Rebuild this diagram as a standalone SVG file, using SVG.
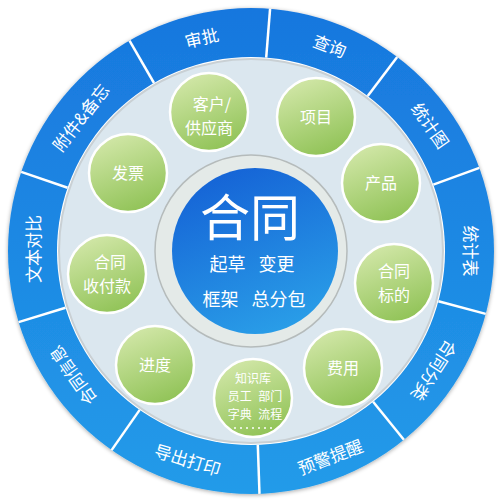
<svg xmlns="http://www.w3.org/2000/svg" width="500" height="500" viewBox="0 0 500 500">
<defs>
<linearGradient id="ringG" x1="0" y1="0" x2="0" y2="1">
<stop offset="0" stop-color="#1877de"/>
<stop offset="1" stop-color="#239be9"/>
</linearGradient>
<linearGradient id="blueG" x1="0.3" y1="0" x2="0.7" y2="1">
<stop offset="0" stop-color="#1563d6"/>
<stop offset="1" stop-color="#2a9fe8"/>
</linearGradient>
<linearGradient id="greenG" x1="0.3" y1="0" x2="0.7" y2="1">
<stop offset="0" stop-color="#d2e7a8"/>
<stop offset="1" stop-color="#8fc255"/>
</linearGradient>
<filter id="sh" x="-10%" y="-10%" width="120%" height="120%">
<feGaussianBlur in="SourceAlpha" stdDeviation="2"/>
<feOffset dx="0" dy="1" result="b"/>
<feComponentTransfer><feFuncA type="linear" slope="0.35"/></feComponentTransfer>
<feMerge><feMergeNode/><feMergeNode in="SourceGraphic"/></feMerge>
</filter>
</defs>
<style>
.lbl{font-family:"Noto Sans CJK SC","Noto Sans",sans-serif;font-size:17px;fill:#ffffff;text-anchor:middle;dominant-baseline:central}
.gc{fill:url(#greenG);stroke:#ffffff;stroke-width:2.5}
.gt{font-family:"Noto Sans CJK SC","Noto Sans",sans-serif;font-size:16px;fill:#ffffff;text-anchor:middle}
.st{font-family:"Noto Sans CJK SC","Noto Sans",sans-serif;font-size:12px;fill:#ffffff;text-anchor:middle;word-spacing:4px}
.dot{fill:#ffffff}
.div{stroke:#ffffff;stroke-width:2.5;stroke-linecap:butt}
.ct{font-family:"Noto Sans CJK SC","Noto Sans",sans-serif;fill:#ffffff;text-anchor:middle}
.cs{word-spacing:9px}
</style>

<g id="outer-ring">
<circle cx="251" cy="251" r="243" fill="url(#ringG)" filter="url(#sh)"/>
</g>

<g id="connectors">
<line class="div" x1="266.2" y1="57.6" x2="270.1" y2="8.7"/>
<line class="div" x1="367.7" y1="96.1" x2="397.2" y2="56.9"/>
<line class="div" x1="433.3" y1="184.7" x2="479.3" y2="167.9"/>
<line class="div" x1="438.4" y1="301.2" x2="485.7" y2="313.9"/>
<line class="div" x1="373.1" y1="401.8" x2="403.9" y2="439.8"/>
<line class="div" x1="257.8" y1="444.9" x2="259.5" y2="493.9"/>
<line class="div" x1="139.7" y1="409.9" x2="111.6" y2="450.1"/>
<line class="div" x1="65.5" y1="307.7" x2="18.6" y2="322.1"/>
<line class="div" x1="67.6" y1="187.8" x2="21.2" y2="171.9"/>
<line class="div" x1="154" y1="83" x2="129.5" y2="40.6"/>
</g>

<g id="ring-labels">
<g id="seg-shenpi"><text class="lbl" transform="translate(201.5,37) rotate(-13)">审批</text></g>
<g id="seg-chaxun"><text class="lbl" transform="translate(330,45) rotate(21)">查询</text></g>
<g id="seg-tongjitu"><text class="lbl" transform="translate(431,125) rotate(55)">统计图</text></g>
<g id="seg-tongjibiao"><text class="lbl" transform="translate(471,251) rotate(90)">统计表</text></g>
<g id="seg-fenlei"><text class="lbl" transform="translate(435,371) rotate(123)">合同分类</text></g>
<g id="seg-yujing"><text class="lbl" transform="translate(330,456) rotate(-21)">预警提醒</text></g>
<g id="seg-daochu"><text class="lbl" transform="translate(188,459) rotate(17)">导出打印</text></g>
<g id="seg-xinxi"><text class="lbl" transform="translate(72,376) rotate(235)">合同信息</text></g>
<g id="seg-wenben"><text class="lbl" transform="translate(32,249) rotate(-90)">文本对比</text></g>
<g id="seg-fujian"><text class="lbl" transform="translate(80,117) rotate(-52)">附件&amp;备忘</text></g>
</g>

<g id="inner-disk">
<circle cx="251" cy="251" r="194" fill="#ffffff"/>
<circle cx="251" cy="251" r="192" fill="#dbe7ef" stroke="#c9d0d4" stroke-width="2"/>
</g>

<g id="node-kehu"><circle class="gc" cx="209" cy="112" r="39"/><text class="gt" x="212" y="110">客户/</text><text class="gt" x="209" y="134">供应商</text></g>
<g id="node-xiangmu"><circle class="gc" cx="316" cy="117" r="39"/><text class="gt" x="316" y="123">项目</text></g>
<g id="node-chanpin"><circle class="gc" cx="381" cy="183" r="39"/><text class="gt" x="381" y="189">产品</text></g>
<g id="node-biaodi"><circle class="gc" cx="394" cy="283" r="39"/><text class="gt" x="394" y="277">合同</text><text class="gt" x="394" y="301">标的</text></g>
<g id="node-feiyong"><circle class="gc" cx="343" cy="368" r="39"/><text class="gt" x="343" y="374">费用</text></g>
<g id="node-zhishi"><circle class="gc" cx="253" cy="398" r="39"/><text class="st" x="253" y="383">知识库</text><text class="st" x="255" y="401">员工 部门</text><text class="st" x="255" y="419">字典 流程</text>
<g class="dot"><circle cx="235" cy="428" r="1"/><circle cx="241" cy="428" r="1"/><circle cx="247" cy="428" r="1"/><circle cx="253" cy="428" r="1"/><circle cx="259" cy="428" r="1"/><circle cx="265" cy="428" r="1"/><circle cx="271" cy="428" r="1"/></g></g>
<g id="node-jindu"><circle class="gc" cx="155" cy="365" r="39"/><text class="gt" x="155" y="371">进度</text></g>
<g id="node-shoufu"><circle class="gc" cx="107" cy="274" r="39"/><text class="gt" x="110" y="268">合同</text><text class="gt" x="107" y="292">收付款</text></g>
<g id="node-fapiao"><circle class="gc" cx="128" cy="173" r="39"/><text class="gt" x="128" y="179">发票</text></g>

<g id="node-center">
<circle cx="251" cy="251" r="96" fill="#e4eae8" stroke="#b5bbbb" stroke-width="1.5"/>
<circle cx="255" cy="251" r="83" fill="url(#blueG)"/>
<text class="ct" x="250" y="236" font-size="50">合同</text>
<text class="ct cs" x="252" y="271" font-size="18">起草 变更</text>
<text class="ct cs" x="254" y="306" font-size="18">框架 总分包</text>
</g>
</svg>
